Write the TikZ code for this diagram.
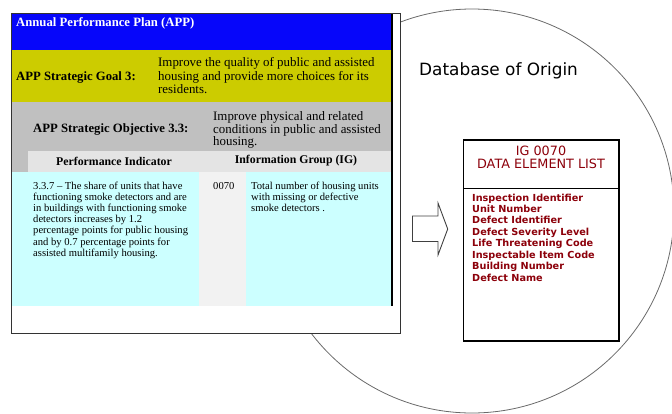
\documentclass[tikz,border=0pt]{standalone}
\usepackage{fontspec}
\setmainfont{Liberation Serif}
\newfontfamily\vsans{DejaVu Sans}
\definecolor{appblue}{RGB}{6,6,250}
\definecolor{goalyel}{RGB}{204,204,0}
\definecolor{objgray}{RGB}{192,192,192}
\definecolor{hdrgray}{RGB}{228,228,228}
\definecolor{bodycyan}{RGB}{204,255,255}
\definecolor{midgray}{RGB}{242,242,242}
\definecolor{delred}{RGB}{140,0,10}
\definecolor{circgray}{RGB}{105,105,105}
\tikzset{
  lbl/.style={inner sep=0pt, font=\bfseries\fontsize{12.7}{13.5}\selectfont},
  hdr/.style={inner sep=0pt, font=\bfseries\fontsize{11.8}{13}\selectfont},
  goaltxt/.style={inner sep=0pt, align=left, anchor=north west, font=\fontsize{12.9}{13.5}\selectfont},
  objtxt/.style={inner sep=0pt, align=left, anchor=north west, font=\fontsize{12.9}{12.6}\selectfont},
  bodytxt/.style={inner sep=0pt, align=left, anchor=north west, font=\fontsize{10.6}{11.17}\selectfont},
  deltitle/.style={inner sep=0pt, text=delred, font=\vsans\fontsize{12.8}{13}\selectfont},
  dellist/.style={inner sep=0pt, align=left, anchor=north west, text=delred, font=\vsans\bfseries\fontsize{9.7}{11.45}\selectfont},
}
\begin{document}
\begin{tikzpicture}[x=1pt,y=-1pt]
\useasboundingbox (0,0) rectangle (672,413);
% database circle
\draw[circgray, line width=0.8pt] (472,211) circle[radius=202pt];
% APP sheet
\draw[fill=white, draw=black!80, line width=0.9pt] (11,13) rectangle (400.3,333.3);
\fill[appblue] (12,14) rectangle (391,50);
\fill[goalyel] (12,50) rectangle (391,102);
\fill[objgray] (12,102) rectangle (391,172);
\fill[hdrgray] (28,151) rectangle (391,172);
\fill[bodycyan] (12,172) rectangle (391,306);
\fill[midgray] (199,172) rectangle (246,306);
\fill[black] (391,14) rectangle (393,306);
% texts
\node[lbl, text=white, anchor=west] (app) at (16,23) {Annual Performance Plan (APP)};
\node[lbl, anchor=west] (goal) at (16,77) {APP Strategic Goal 3:};
\node[goaltxt] (goaltext) at (158,57.3) {Improve the quality of public and assisted\\housing and provide more choices for its\\residents.};
\node[lbl, anchor=west] (obj) at (33,129) {APP Strategic Objective 3.3:};
\node[objtxt] (objtext) at (213,111.3) {Improve physical and related\\conditions in public and assisted\\housing.};
\node[hdr] (pihdr) at (114,161) {Performance Indicator};
\node[hdr] (ighdr) at (296,161) {Information Group (IG)};
\node[bodytxt] (pitext) at (33,181.5) {3.3.7 -- The share of units that have\\functioning smoke detectors and are\\in buildings with functioning smoke\\detectors increases by 1.2\\percentage points for public housing\\and by 0.7 percentage points for\\assisted multifamily housing.};
\node[bodytxt] (ignum) at (213,182.5) {0070};
\node[bodytxt] (igtext) at (251,181.5) {Total number of housing units\\with missing or defective\\smoke detectors .};
% database side
\node[inner sep=0pt, anchor=west, font=\vsans\fontsize{16.9}{18}\selectfont] (dbo) at (419,71) {Database of Origin};
\draw[black, line width=1.5pt] (463.7,140) rectangle (619,341);
\coordinate (sepL) at (463.7,188);
\coordinate (sepR) at (619,188);
\draw[black, line width=0.9pt] (sepL) -- (sepR);
\node[deltitle] (ig) at (541,151) {IG 0070};
\node[deltitle] (del) at (541,164) {DATA ELEMENT LIST};
\node[dellist] (items) at (472,193.5) {Inspection Identifier\\Unit Number\\Defect Identifier\\Defect Severity Level\\Life Threatening Code\\Inspectable Item Code\\Building Number\\Defect Name};
% block arrow
\draw[black!75, line width=0.9pt, fill=white] (412.5,216) -- (438,216) -- (438,203) -- (447.7,229) -- (438,255) -- (438,241.5) -- (412.5,241.5) -- cycle;
\end{tikzpicture}
\end{document}
